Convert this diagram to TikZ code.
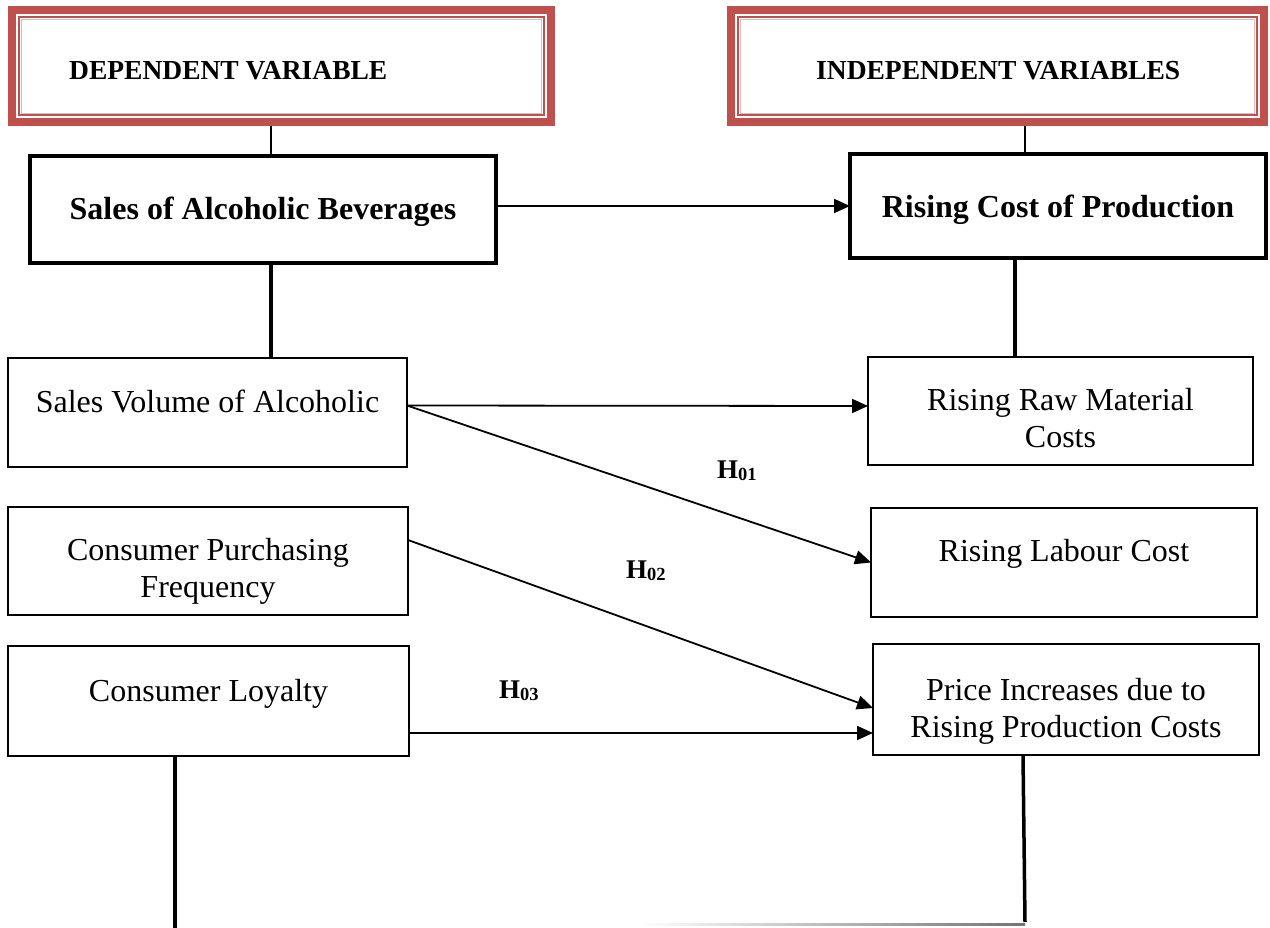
\documentclass[tikz,border=0pt]{standalone}
\usepackage{fontspec}
\setmainfont{Liberation Serif}
\usetikzlibrary{arrows.meta,calc}
\definecolor{wred}{RGB}{192,80,77}
\begin{document}
\begin{tikzpicture}[x=1pt,y=-1pt]
\tikzset{
 bx/.style={draw, line width=1.6pt, inner sep=0pt, outer sep=0pt},
 bxthick/.style={draw, line width=3.8pt, inner sep=0pt, outer sep=0pt},
 frame/.style={fill=wred, inner sep=0pt, outer sep=0pt},
 txt/.style={font=\fontsize{32}{37}\selectfont, inner sep=0pt, anchor=base, align=flush center, text width=390pt},
 btxt/.style={font=\bfseries\fontsize{32}{37}\selectfont, inner sep=0pt, anchor=base},
 hd/.style={font=\bfseries\fontsize{27.5}{32}\selectfont, inner sep=0pt, anchor=base west},
 hl/.style={font=\bfseries\fontsize{27}{30}\selectfont, inner sep=0pt, anchor=base west},
 arr/.style={line width=1.8pt, -{Triangle[length=16pt,width=14pt]}},
 heavy/.style={line width=4pt},
 thinln/.style={line width=1.8pt},
}
\useasboundingbox (0,0) rectangle (1270,928);

% red framed header boxes
\node[frame, minimum width=547pt, minimum height=120pt] (dv) at (281.5,66.5) {};
\node[frame, minimum width=541pt, minimum height=120pt] (iv) at (997.5,66.5) {};
\foreach \n in {dv,iv}{
  \fill[white] ($(\n.south west)+(8,-8)$) rectangle ($(\n.north east)+(-8,8)$);
  \draw[wred, line width=2pt] ($(\n.south west)+(11,-11)$) rectangle ($(\n.north east)+(-11,11)$);
  \draw[wred!40, line width=0.8pt] ($(\n.south west)+(13.2,-13.2)$) rectangle ($(\n.north east)+(-13.2,13.2)$);
}
\node[hd] (dvt) at (69,80) {DEPENDENT VARIABLE};
\node[hd] (ivt) at (816,80) {INDEPENDENT VARIABLES};

% main boxes
\node[bxthick, minimum width=466pt, minimum height=107pt] (sales) at (263,209.5) {};
\node[bxthick, minimum width=416pt, minimum height=104pt] (cost) at (1058,206) {};
\node[btxt] (salest) at ($(sales.center)+(0,10.5)$) {Sales of Alcoholic Beverages};
\node[btxt] (costt) at ($(cost.center)+(0,12)$) {Rising Cost of Production};

% left boxes
\node[bx, minimum width=399pt, minimum height=109pt] (sv) at (207.5,412.5) {};
\node[bx, minimum width=400pt, minimum height=108pt] (cpf) at (208,561) {};
\node[bx, minimum width=401pt, minimum height=110pt] (loy) at (208.5,701) {};
% right boxes
\node[bx, minimum width=385pt, minimum height=108pt] (raw) at (1060.5,411) {};
\node[bx, minimum width=386pt, minimum height=109pt] (lab) at (1064,562.5) {};
\node[bx, minimum width=386pt, minimum height=111pt] (price) at (1066,699.5) {};

\node[txt] (svt) at ($(sv.north)+(0,54)$) {Sales Volume of Alcoholic};
\node[txt] (cpft) at ($(cpf.north)+(0,53)$) {Consumer Purchasing\\Frequency};
\node[txt] (loyt) at ($(loy.north)+(0,55)$) {Consumer Loyalty};
\node[txt] (rawt) at ($(raw.north)+(0,53)$) {Rising Raw Material\\Costs};
\node[txt] (labt) at ($(lab.north)+(0,53)$) {Rising Labour Cost};
\node[txt] (pricet) at ($(price.north)+(0,56)$) {Price Increases due to\\Rising Production Costs};

% hypothesis labels
\node[hl] (h1) at (717,478) {H\raisebox{-2pt}{\fontsize{18.5}{18}\selectfont 01}};
\node[hl] (h2) at (626,578) {H\raisebox{-2pt}{\fontsize{18.5}{18}\selectfont 02}};
\node[hl] (h3) at (499,698) {H\raisebox{-2pt}{\fontsize{18.5}{18}\selectfont 03}};

% vertical connectors
\coordinate (a1) at ($(sales.south)+(8,0)$);
\draw[thinln] (a1 |- dv.south) -- (a1 |- sales.north);
\draw[heavy] (a1) -- (a1 |- sv.north);
\coordinate (a2) at ($(cost.north)+(-33,0)$);
\draw[thinln] (a2 |- iv.south) -- (a2);
\coordinate (a3) at ($(cost.south)+(-43,0)$);
\draw[heavy] (a3) -- (a3 |- raw.north);

% arrows
\draw[arr] (sales.east |- cost.west) -- (cost.west);
\coordinate (svout) at ($(sv.east)+(0,-7)$);
\draw[arr] (svout) -- ($(raw.west)+(0,-5)$);
\draw[arr] (svout) -- (lab.west);
\draw[arr] ($(cpf.east)+(0,-21)$) -- ($(price.west)+(0,8.5)$);
\draw[arr] ($(loy.east)+(0,32)$) -- ($(price.west)+(0,33.5)$);

% bottom lines
\coordinate (lbot) at (175,928);
\draw[heavy] (lbot |- loy.south) -- (lbot);
\coordinate (rbot) at (1025,922);
\draw[line width=3.5pt] ($(price.south)+(-43,0)$) -- (rbot);
\shade[left color=white, right color=black!55] (640,923) rectangle (1025,925.5);
\end{tikzpicture}
\end{document}
